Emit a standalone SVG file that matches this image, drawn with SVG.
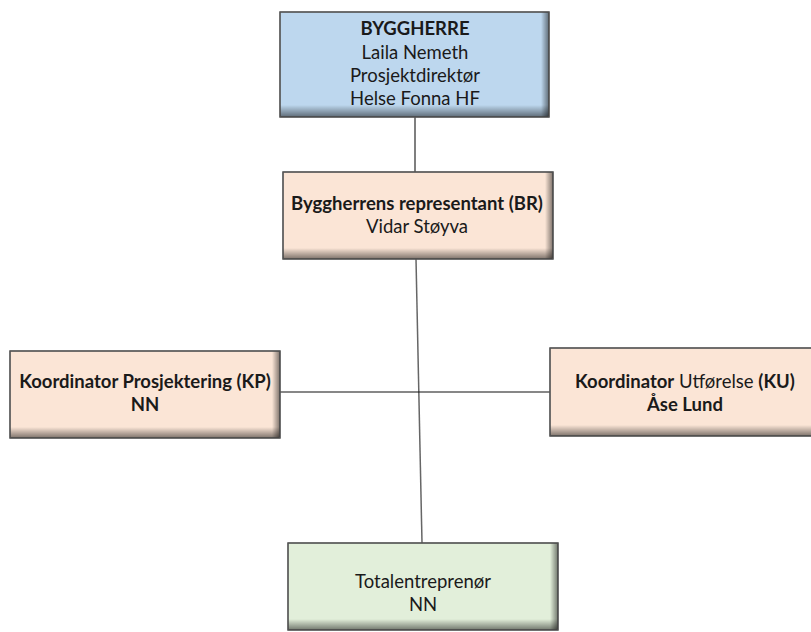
<svg xmlns="http://www.w3.org/2000/svg" width="811" height="632" viewBox="0 0 811 632">
<style>
.t{font-family:"Lato","Liberation Sans",sans-serif;font-size:18.5px;fill:#1a1a1a;text-anchor:middle}
.b{font-weight:bold}
.box{stroke:#555;stroke-width:1.2}
.blue{fill:#bdd7ee}.peach{fill:#fbe5d6}.green{fill:#e2efda}
</style>
<defs>
<linearGradient id="sr" x1="0" y1="0" x2="1" y2="0"><stop offset="0" stop-color="#000" stop-opacity="0"/><stop offset="1" stop-color="#000" stop-opacity="0.5"/></linearGradient>
<linearGradient id="sb" x1="0" y1="0" x2="0" y2="1"><stop offset="0" stop-color="#000" stop-opacity="0"/><stop offset="1" stop-color="#000" stop-opacity="0.5"/></linearGradient>
</defs>
<g id="connectors" fill="none">
<line x1="415" y1="117" x2="415" y2="172" stroke="#555" stroke-width="1.5"/>
<line x1="416" y1="259" x2="422" y2="543" stroke="#666" stroke-width="1.5"/>
<line x1="280" y1="392" x2="550" y2="392" stroke="#111" stroke-width="1.2"/>
</g>
<g id="byggherre">
<rect class="box blue" x="280" y="12" width="269" height="105"/>
<rect x="541" y="12" width="8" height="105" fill="url(#sr)"/>
<rect x="280" y="105" width="269" height="12" fill="url(#sb)"/>
<rect x="280" y="12" width="269" height="105" fill="none" stroke="#555" stroke-width="1.2"/>
<text class="t b" x="415" y="35">BYGGHERRE</text>
<text class="t" x="415" y="59">Laila Nemeth</text>
<text class="t" x="415" y="82">Prosjektdirektør</text>
<text class="t" x="415" y="105">Helse Fonna HF</text>
</g>
<g id="br">
<rect class="box peach" x="283" y="172" width="270" height="87"/>
<rect x="545" y="172" width="8" height="87" fill="url(#sr)"/>
<rect x="283" y="248" width="270" height="11" fill="url(#sb)"/>
<rect x="283" y="172" width="270" height="87" fill="none" stroke="#555" stroke-width="1.2"/>
<text class="t b" x="417" y="210">Byggherrens representant (BR)</text>
<text class="t" x="417" y="233">Vidar Støyva</text>
</g>
<g id="kp">
<rect class="box peach" x="10" y="351" width="270" height="87"/>
<rect x="272" y="351" width="8" height="87" fill="url(#sr)"/>
<rect x="10" y="427" width="270" height="11" fill="url(#sb)"/>
<rect x="10" y="351" width="270" height="87" fill="none" stroke="#555" stroke-width="1.2"/>
<text class="t b" x="145" y="388">Koordinator Prosjektering (KP)</text>
<text class="t b" x="145" y="411">NN</text>
</g>
<g id="ku">
<rect class="box peach" x="550" y="348" width="270" height="88"/>
<rect x="550" y="425" width="270" height="11" fill="url(#sb)"/>
<rect x="550" y="348" width="270" height="88" fill="none" stroke="#555" stroke-width="1.2"/>
<text class="t" x="685" y="388"><tspan class="b">Koordinator</tspan> Utførelse <tspan class="b">(KU)</tspan></text>
<text class="t b" x="685" y="411">Åse Lund</text>
</g>
<g id="totalentreprenor">
<rect class="box green" x="288" y="543" width="270" height="87"/>
<rect x="550" y="543" width="8" height="87" fill="url(#sr)"/>
<rect x="288" y="619" width="270" height="11" fill="url(#sb)"/>
<rect x="288" y="543" width="270" height="87" fill="none" stroke="#555" stroke-width="1.2"/>
<text class="t" x="423" y="588">Totalentreprenør</text>
<text class="t" x="423" y="611">NN</text>
</g>
</svg>
